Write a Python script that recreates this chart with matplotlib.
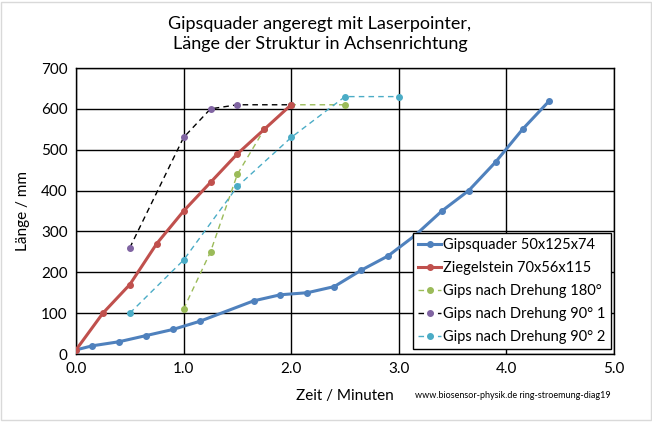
import matplotlib.pyplot as plt
from matplotlib.patches import Rectangle

plt.rcParams['font.family'] = ['Lato', 'DejaVu Sans']

# Gipsquader 50x125x74
x_quader = [0.0, 0.15, 0.4, 0.65, 0.9, 1.15, 1.65, 1.9, 2.15, 2.4, 2.65, 2.9,
            3.15, 3.4, 3.65, 3.9, 4.15, 4.4]
y_quader = [10, 20, 30, 45, 60, 80, 130, 145, 150, 165, 205, 240,
            290, 350, 400, 470, 550, 620]

# Ziegelstein 70x56x115
x_ziegel = [0.0, 0.25, 0.5, 0.75, 1.0, 1.25, 1.5, 1.75, 2.0]
y_ziegel = [10, 100, 170, 270, 350, 420, 490, 550, 610]

# Gips nach Drehung 180°
x_d180 = [1.0, 1.25, 1.5, 1.75, 2.0, 2.5]
y_d180 = [110, 250, 440, 550, 610, 610]

# Gips nach Drehung 90° 1
x_d90a = [0.5, 1.0, 1.25, 1.5, 2.0]
y_d90a = [260, 530, 600, 610, 610]

# Gips nach Drehung 90° 2
x_d90b = [0.5, 1.0, 1.5, 2.0, 2.5, 3.0]
y_d90b = [100, 230, 410, 530, 630, 630]

fig = plt.figure(figsize=(6.52, 4.22), dpi=100)
ax = fig.add_axes([76 / 652, 1 - 354 / 422, 538 / 652, 286 / 422])

ax.plot(x_quader, y_quader, color='#4F81BD', lw=2.2, marker='o', ms=4,
        label='Gipsquader 50x125x74', zorder=5)
ax.plot(x_ziegel, y_ziegel, color='#C0504D', lw=2.2, marker='o', ms=4,
        label='Ziegelstein 70x56x115', zorder=5)
ax.plot(x_d180, y_d180, color='#9BBB59', lw=1, ls=(0, (4, 3)), marker='o', ms=4,
        label='Gips nach Drehung 180°', zorder=4)
ax.plot(x_d90a, y_d90a, color='black', lw=1, ls=(0, (4, 3)), marker='o', ms=4,
        mfc='#8064A2', mec='#8064A2', label='Gips nach Drehung 90° 1', zorder=4)
ax.plot(x_d90b, y_d90b, color='#4BACC6', lw=1, ls=(0, (4, 3)), marker='o', ms=4,
        label='Gips nach Drehung 90° 2', zorder=4)

ax.set_xlim(0, 5)
ax.set_ylim(0, 700)
ax.set_xticks([0, 1, 2, 3, 4, 5])
ax.set_xticklabels(['0.0', '1.0', '2.0', '3.0', '4.0', '5.0'])
ax.set_yticks(range(0, 701, 100))
ax.tick_params(length=0, labelsize=11, pad=6)
ax.grid(True, color='black', lw=1)
ax.set_axisbelow(True)
for s in ax.spines.values():
    s.set_color('black')
    s.set_linewidth(1)

ax.set_ylabel('Länge / mm', fontsize=11, labelpad=8)
fig.text(345 / 652, 1 - 396 / 422, 'Zeit / Minuten', fontsize=11,
         ha='center', va='center')
fig.text(415 / 652, 1 - 396 / 422, 'www.biosensor-physik.de ring-stroemung-diag19',
         fontsize=6.5, ha='left', va='center')
fig.text(320 / 652, 1 - 34 / 422,
         'Gipsquader angeregt mit Laserpointer,\nLänge der Struktur in Achsenrichtung',
         fontsize=13, ha='center', va='center', linespacing=1.3)

leg = ax.legend(loc='lower right', bbox_to_anchor=(0.997, 0.012), fontsize=10.5,
                frameon=True, fancybox=False, framealpha=1, edgecolor='black',
                borderpad=0.35, labelspacing=0.62, handlelength=1.6,
                handletextpad=0.15, borderaxespad=0.1)
leg.get_frame().set_linewidth(1)

fig.patches.append(Rectangle((0.002, 0.005), 0.996, 0.99, transform=fig.transFigure,
                             fill=False, edgecolor='#D9D9D9', lw=1))

fig.savefig('out.png', dpi=100)
